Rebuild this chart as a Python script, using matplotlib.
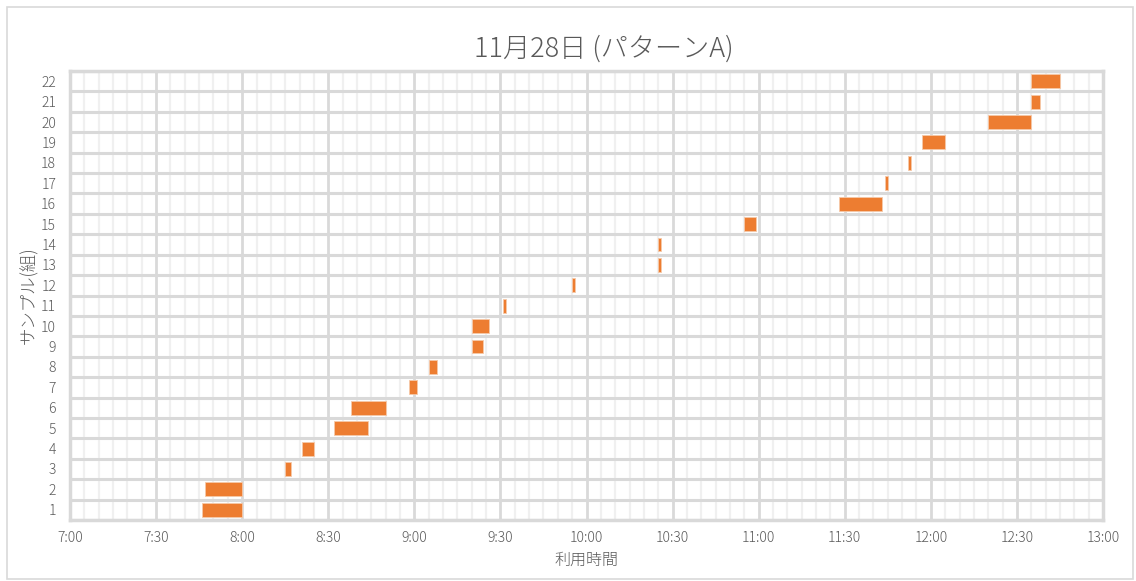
import matplotlib
matplotlib.use("Agg")
import matplotlib.pyplot as plt
from matplotlib.patches import Rectangle

plt.rcParams['font.family'] = ['Noto Sans CJK JP', 'DejaVu Sans']

# Data: sample number, start time and end time (HH:MM)
samples = list(range(1, 23))
start_times = ["7:46", "7:47", "8:15", "8:21", "8:32", "8:38", "8:58", "9:05",
               "9:20", "9:20", "9:31", "9:55", "10:25", "10:25", "10:55", "11:28",
               "11:44", "11:52", "11:57", "12:20", "12:35", "12:35"]
end_times = ["8:00", "8:00", "8:17", "8:25", "8:44", "8:50", "9:01", "9:08",
             "9:24", "9:26", "9:32", "9:56", "10:26", "10:26", "10:59", "11:43",
             "11:45", "11:53", "12:05", "12:35", "12:38", "12:45"]
tick_labels = ["7:00", "7:30", "8:00", "8:30", "9:00", "9:30", "10:00", "10:30",
               "11:00", "11:30", "12:00", "12:30", "13:00"]
title = "11月28日 (パターンA)"
xlabel = "利用時間"
ylabel = "サンプル(組)"


def to_min(s):
    h, m = s.split(":")
    return int(h) * 60 + int(m)


starts = [to_min(s) for s in start_times]
durations = [to_min(e) - to_min(s) for s, e in zip(start_times, end_times)]
ticks = [to_min(t) for t in tick_labels]

TXT = "#595959"
GRID = "#d9d9d9"
MINOR = "#f0f0f0"
BAR = "#ED7D31"

fig = plt.figure(figsize=(11.36, 5.81), dpi=100)
fig.patch.set_facecolor("white")
fig.patches.append(Rectangle((7 / 1136, 2 / 581), 1126 / 1136, 572 / 581,
                             transform=fig.transFigure, fill=False,
                             edgecolor=GRID, linewidth=1.2))

ax = fig.add_axes([70 / 1136, 1 - 520 / 581, 1033 / 1136, 449 / 581])
ax.set_xlim(ticks[0], ticks[-1])
ax.set_ylim(0.5, len(samples) + 0.5)

# minor vertical grid (every 5 min)
for x in range(ticks[0], ticks[-1] + 1, 5):
    if x not in ticks:
        ax.axvline(x, color=MINOR, linewidth=1.6, zorder=0)
# major vertical grid
for x in ticks:
    ax.axvline(x, color=GRID, linewidth=2.0, zorder=1)
# horizontal grid at category boundaries
for i in range(len(samples) + 1):
    ax.axhline(i + 0.5, color=GRID, linewidth=2.2, zorder=1)

ax.barh(samples, durations, left=starts, height=0.68, color=BAR,
        edgecolor="#f6c9a9", linewidth=0.6, zorder=3)

for sp in ax.spines.values():
    sp.set_color(GRID)
    sp.set_linewidth(2.5)

ax.set_xticks(ticks)
ax.set_xticklabels(tick_labels)
ax.set_yticks(samples)
ax.set_yticklabels([str(s) for s in samples])
ax.tick_params(axis='both', length=0, colors=TXT, labelsize=10)
ax.tick_params(axis='x', pad=8)
ax.tick_params(axis='y', pad=10)
for lab in ax.get_xticklabels() + ax.get_yticklabels():
    lab.set_fontweight('light')

ax.set_title(title, color=TXT, fontsize=19.5, pad=10, fontweight='light',
             x=0.517)
ax.set_xlabel(xlabel, color=TXT, fontsize=11.5, labelpad=5, fontweight='light')
ax.set_ylabel(ylabel, color=TXT, fontsize=12.5, labelpad=2, fontweight='light')

fig.savefig("out.png", dpi=100, facecolor="white")
